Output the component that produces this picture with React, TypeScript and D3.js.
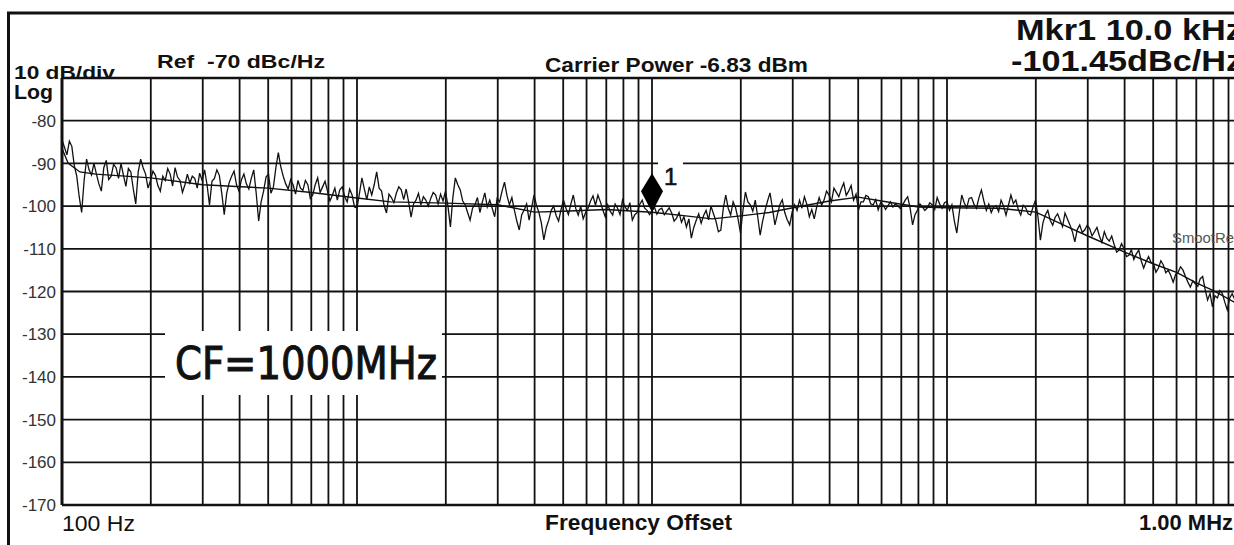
import * as React from 'react'
import * as d3 from 'd3'

// sweep: 100 Hz .. 1 MHz, 120 points per decade
const sweepStart = 100
const sweepStop = 1e6
const pointsPerDecade = 120

// raw phase noise trace, dBc/Hz
const noise = [
  -84.5, -86.2, -88.0, -84.8, -86.0, -90.5, -93.0, -97.8, -101.5, -94.0,
  -89.0, -91.5, -92.7, -90.0, -92.5, -94.8, -96.5, -91.0, -89.3, -93.8,
  -93.0, -90.2, -91.0, -93.5, -90.0, -92.8, -95.4, -91.2, -92.0, -96.0,
  -99.5, -92.0, -89.0, -91.0, -92.5, -95.8, -94.0, -91.8, -92.8, -95.2,
  -96.5, -93.0, -94.0, -91.2, -92.5, -95.3, -91.0, -93.2, -94.0, -96.8,
  -95.0, -92.5, -94.6, -93.0, -93.5, -95.8, -92.3, -94.0, -91.5, -95.0,
  -99.7, -94.2, -93.5, -91.5, -92.8, -97.0, -102.0, -97.0, -94.5, -93.0,
  -91.8, -95.0, -96.5, -93.8, -92.5, -94.8, -96.0, -93.5, -91.5, -97.0,
  -103.5, -99.0, -96.5, -93.2, -92.5, -97.0, -95.5, -91.0, -87.5, -90.8,
  -93.0, -94.8, -96.0, -93.8, -95.0, -97.2, -94.0, -95.8, -96.3, -94.0,
  -95.0, -98.2, -97.4, -95.0, -93.4, -96.8, -95.5, -94.2, -96.5, -98.8,
  -97.4, -95.8, -98.6, -96.2, -95.5, -97.8, -99.0, -96.0, -97.4, -100.2,

  -100.4, -97.0, -93.4, -96.0, -98.5, -95.5, -97.4, -95.0, -92.0, -95.8,
  -96.5, -99.8, -101.6, -97.2, -98.0, -99.2, -97.0, -95.5, -96.2, -98.5,
  -96.0, -99.0, -102.6, -99.5, -98.6, -97.0, -99.7, -97.8, -98.6, -100.0,
  -98.2, -96.8, -97.4, -99.5, -97.2, -98.8, -96.5, -100.0, -104.9, -98.0,
  -93.4, -95.0, -96.2, -98.8, -99.7, -101.5, -103.3, -100.5, -99.7, -98.0,
  -101.5, -99.0, -96.9, -100.2, -98.6, -100.5, -102.5, -98.2, -99.0, -96.5,
  -94.4, -97.5, -99.7, -98.0, -100.9, -103.5, -105.6, -102.0, -100.9, -99.5,
  -103.3, -100.5, -97.4, -99.8, -101.5, -104.0, -107.9, -105.0, -103.3, -101.0,
  -100.0, -102.2, -103.5, -100.8, -98.6, -100.5, -102.0, -99.5, -97.4, -100.6,
  -102.1, -100.0, -103.0, -101.5, -100.5, -98.8, -97.6, -99.8, -97.4, -99.0,
  -100.9, -102.5, -99.7, -101.2, -102.1, -99.5, -100.5, -102.0, -98.6, -100.2,
  -101.0, -99.2, -103.3, -102.0, -101.5, -99.6, -98.6, -100.5, -101.0, -102.0,

  -101.2, -100.2, -101.9, -100.8, -100.5, -102.0, -101.2, -100.4, -101.6, -103.5,
  -102.8, -101.5, -103.8, -102.5, -104.9, -103.0, -107.5, -105.0, -103.3, -101.8,
  -104.0, -102.2, -101.0, -103.2, -100.0, -101.8, -103.5, -106.0, -105.6, -100.5,
  -97.4, -100.5, -102.1, -99.0, -100.4, -103.0, -106.3, -101.0, -96.7, -99.0,
  -99.7, -101.2, -98.6, -102.5, -106.8, -103.5, -101.0, -98.8, -96.9, -100.5,
  -104.4, -102.0, -99.7, -98.5, -101.5, -103.2, -104.4, -101.5, -99.7, -101.0,
  -98.6, -100.5, -97.8, -99.6, -102.5, -100.8, -103.0, -100.2, -98.0, -99.8,
  -98.6, -96.5, -97.4, -99.0, -95.8, -96.8, -97.8, -96.0, -94.6, -97.5,
  -96.5, -95.2, -98.6, -97.2, -100.9, -99.0, -99.0, -97.5, -97.8, -99.5,
  -99.7, -98.5, -100.9, -99.2, -99.7, -100.8, -99.9, -99.0, -100.2, -99.5,
  -99.9, -100.6, -99.7, -98.6, -97.8, -100.5, -104.4, -102.0, -100.9, -99.5,
  -100.2, -101.0, -100.4, -99.2, -99.7, -100.8, -98.0, -99.5, -100.5, -99.2,

  -98.9, -101.0, -99.7, -103.5, -106.3, -101.5, -97.4, -99.2, -100.4, -98.2,
  -98.0, -99.6, -100.5, -98.0, -96.2, -98.8, -101.0, -99.5, -101.5, -100.2,
  -99.9, -101.3, -98.6, -100.0, -102.1, -99.8, -97.4, -99.4, -98.6, -100.8,
  -102.1, -99.8, -100.4, -101.8, -102.1, -100.2, -98.6, -102.5, -108.0, -104.0,
  -102.1, -101.0, -103.3, -104.5, -102.6, -101.8, -103.3, -104.8, -101.6, -103.0,
  -104.4, -106.0, -108.4, -105.5, -104.4, -106.2, -105.6, -104.5, -105.2, -107.0,
  -106.0, -105.0, -107.0, -108.5, -106.0, -107.5, -108.2, -107.0, -109.0, -110.8,
  -110.3, -108.8, -109.9, -111.8, -111.5, -110.2, -112.5, -111.2, -110.3, -112.8,
  -114.5, -113.0, -111.8, -113.2, -113.5, -115.5, -114.5, -112.8, -113.8, -115.6,
  -115.0, -116.2, -117.8, -116.0, -115.5, -114.2, -115.0, -116.5, -117.8, -119.0,
  -117.5, -118.2, -118.8, -117.0, -116.5, -119.5, -122.0, -120.5, -123.6, -121.0,
  -121.5, -119.8, -120.5, -122.5, -124.3, -121.5, -120.5, -121.8, -122.0, -124.0,
  -123.0
]

// smoothed trace
const smoothFreq = [100, 105, 115, 130, 150, 200, 300, 500, 700, 1000, 1300, 2000, 3000, 4000, 5000, 7000,
  10000, 13000, 16000, 20000, 25000, 30000, 40000, 50000, 60000, 80000, 100000, 150000, 200000, 250000,
  300000, 400000, 500000, 600000, 700000, 800000, 1000000]
const smoothLevel = [-86.5, -90.0, -92.0, -92.5, -92.8, -93.4, -95.0, -95.8, -96.8, -98.1, -99.0, -99.3, -99.7,
  -101.4, -101.2, -100.8, -101.45, -102.3, -103.0, -102.3, -101.5, -100.4, -98.8, -97.9, -98.8, -100.2, -100.4,
  -100.5, -101.4, -104.5, -107.0, -110.8, -113.5, -115.5, -118.0, -119.8, -123.5]

const yTicks = [-80, -90, -100, -110, -120, -130, -140, -150, -160, -170]
const markerFreq = 10000
const markerLevel = -101.45

const W = 1234
const H = 545
const L = 62, R = 1242, T = 78, B = 505

export default function App() {
  const x = d3.scaleLog().domain([sweepStart, sweepStop]).range([L, R])
  const y = d3.scaleLinear().domain([-170, -70]).range([B, T])

  const freqs = noise.map((_, i) => sweepStart * Math.pow(10, i / pointsPerDecade))
  const line = d3.line<[number, number]>().x(d => x(d[0])).y(d => y(d[1]))
  const noisePath = line(noise.map((v, i) => [freqs[i], v]))
  const smoothPath = line(smoothFreq.map((f, i) => [f, smoothLevel[i]]))

  const vGrid = x.ticks()
  const hGrid = y.ticks(10)

  const mx = x(markerFreq)
  const my = y(markerLevel)
  const diamond = `M${mx},${my} L${mx - 11},${my - 21} L${mx},${my - 39} L${mx + 11},${my - 21} Z`

  const font = 'Arial, "Liberation Sans", sans-serif'

  return (
    <svg width={W} height={H} style={{position: 'absolute', left: 0, top: 0, background: '#fff'}} fontFamily={font}>
      <defs>
        <clipPath id="plot">
          <rect x={L} y={T} width={R - L} height={B - T} />
        </clipPath>
      </defs>
      <rect x={0} y={0} width={W} height={H} fill="#fff" />

      {/* outer frame */}
      <rect x={8.5} y={13} width={W + 20} height={H + 20} fill="none" stroke="#111" strokeWidth={3} />

      {/* grid */}
      {vGrid.map((f, i) => (
        <line key={'v' + i} x1={x(f)} x2={x(f)} y1={T} y2={B} stroke="#111" strokeWidth={1.8} />
      ))}
      {hGrid.map((v, i) => (
        <line key={'h' + i} x1={L} x2={R} y1={y(v)} y2={y(v)} stroke="#111" strokeWidth={1.8} />
      ))}

      {/* plot border */}
      <line x1={L} x2={R} y1={B} y2={B} stroke="#111" strokeWidth={2.6} />
      <line x1={L} x2={L} y1={T} y2={B} stroke="#111" strokeWidth={3} />

      {/* CF label box */}
      <rect x={165} y={331} width={277} height={64} fill="#fff" />
      <text x={175} y={379} fontSize={44} fill="#111" stroke="#111" strokeWidth={1}
        fontFamily='"Liberation Sans Narrow", "DejaVu Sans Condensed", Arial, sans-serif'
        textLength={262} lengthAdjust="spacingAndGlyphs">CF=1000MHz</text>

      {/* traces */}
      <g clipPath="url(#plot)">
        <path d={smoothPath || ''} fill="none" stroke="#111" strokeWidth={1.4} />
        <path d={noisePath || ''} fill="none" stroke="#111" strokeWidth={1.3} />
      </g>

      {/* marker */}
      <rect x={658} y={160} width={25} height={28} fill="#fff" />
      <path d={diamond} fill="#000" />
      <text x={664} y={185} fontSize={24} fill="#111" stroke="#111" strokeWidth={0.6}>1</text>

      {/* smooth annotation */}
      <text x={1172} y={243} fontSize={14} fill="#555" textLength={62} lengthAdjust="spacingAndGlyphs">SmootRe</text>

      {/* header texts */}
      <text x={14} y={79} fontSize={19} fontWeight="bold" fill="#111" textLength={101} lengthAdjust="spacingAndGlyphs">10 dB/div</text>
      <line x1={L} x2={R} y1={T} y2={T} stroke="#111" strokeWidth={2.6} />
      <text x={14} y={99} fontSize={20} fontWeight="bold" fill="#111" textLength={39} lengthAdjust="spacingAndGlyphs">Log</text>
      <text x={157} y={68} fontSize={19} fontWeight="bold" fill="#111" textLength={168} lengthAdjust="spacingAndGlyphs" xmlSpace="preserve">Ref  -70 dBc/Hz</text>
      <text x={545} y={72} fontSize={20} fontWeight="bold" fill="#111" textLength={263} lengthAdjust="spacingAndGlyphs">Carrier Power -6.83 dBm</text>
      <text x={1016} y={40} fontSize={30} fontWeight="bold" fill="#111" textLength={227} lengthAdjust="spacingAndGlyphs">Mkr1 10.0 kHz</text>
      <text x={1011} y={71} fontSize={30} fontWeight="bold" fill="#111" textLength={232} lengthAdjust="spacingAndGlyphs">-101.45dBc/Hz</text>

      {/* y tick labels */}
      {yTicks.map(v => (
        <text key={v} x={56} y={y(v)} dy="0.36em" textAnchor="end" fontSize={17} fill="#333">{v}</text>
      ))}

      {/* x labels */}
      <text x={62} y={531} fontSize={22} fill="#111" textLength={73} lengthAdjust="spacingAndGlyphs">100 Hz</text>
      <text x={545} y={530} fontSize={22} fontWeight="bold" fill="#111" textLength={187} lengthAdjust="spacingAndGlyphs">Frequency Offset</text>
      <text x={1139} y={530} fontSize={22} fontWeight="bold" fill="#111" textLength={94} lengthAdjust="spacingAndGlyphs">1.00 MHz</text>
    </svg>
  )
}
